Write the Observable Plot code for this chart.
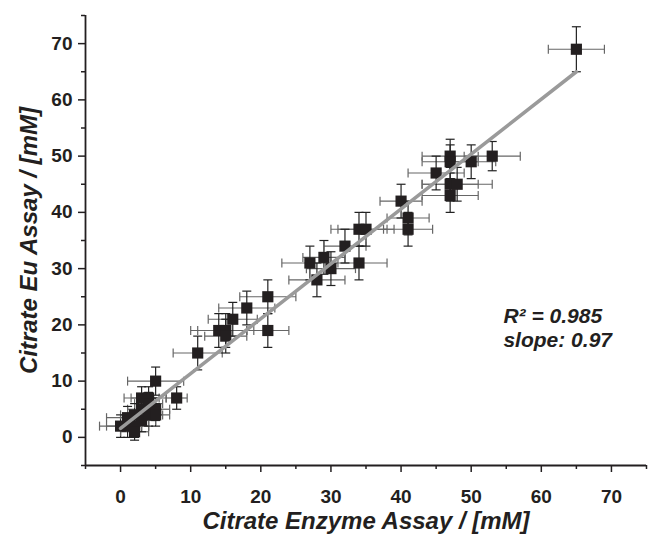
<!DOCTYPE html>
<html>
<head>
<meta charset="utf-8">
<script src="https://cdn.jsdelivr.net/npm/d3@7"></script>
<script src="https://cdn.jsdelivr.net/npm/@observablehq/plot@0.6"></script>
<style>
  html, body { margin: 0; padding: 0; background: #fff; }
</style>
</head>
<body>
<div id="chart"></div>
<script>
// Citrate Enzyme Assay (x) vs Citrate Eu Assay (y), mM, with error bars
const xVals = [65, 53, 50, 47, 47, 45, 47, 48, 47, 40, 41, 41, 34, 35, 32, 29, 27, 30, 34, 28, 21, 18, 16, 14, 15, 15, 21, 11, 5, 8, 3, 4, 0, 1, 1, 2, 2, 3, 3, 4, 4, 5, 5, 2];
const yVals = [69, 50, 49, 50, 49, 47, 45, 45, 43, 42, 39, 37, 37, 37, 34, 32, 31, 30, 31, 28, 25, 23, 21, 19, 19, 18, 19, 15, 10, 7, 7, 7, 2, 2, 3.5, 2, 4, 3, 5, 4, 6, 5, 4, 1];
const xErr  = [4, 4, 3.5, 4, 4, 4, 4, 5, 4, 3, 3, 3.5, 4, 4, 3, 3, 4, 3.5, 4, 4, 4, 4, 3.5, 4, 4, 3, 3, 3.5, 4, 1.5, 2.5, 2.5, 3, 3, 3, 2, 2, 2, 2, 2, 2, 2, 2, 2];
const yErr  = [4, 2.6, 3, 3, 3, 3, 3, 3, 3, 3, 3, 3, 3, 3, 3, 3, 3, 3, 3, 3, 3, 3, 3, 3, 3, 3, 3, 3, 2.5, 2, 2, 2, 2, 2, 2, 2, 2, 2, 2, 2, 2, 2, 2, 1.5];

// linear fit shown in the figure
const fitX = [0, 65];
const fitY = [1.6, 65];

const majorTicks = [0, 10, 20, 30, 40, 50, 60, 70];
const minorTicks = [-5, 5, 15, 25, 35, 45, 55, 65, 75];

const xTitle = "Citrate Enzyme Assay / [mM]";
const yTitle = "Citrate Eu Assay / [mM]";
const annotText = ["R\u00B2 = 0.985", "slope: 0.97"];
const annotX = [54.6, 54.6];
const annotY = [21.5, 17.2];

const data = xVals.map((x, i) => ({x, y: yVals[i], xe: xErr[i], ye: yErr[i]}));
const fit = fitX.map((x, i) => ({x, y: fitY[i]}));
const annot = annotText.map((t, i) => ({t, x: annotX[i], y: annotY[i]}));

const capH = {draw(ctx) { ctx.moveTo(-4.5, 0); ctx.lineTo(4.5, 0); }};
const capV = {draw(ctx) { ctx.moveTo(0, -4.5); ctx.lineTo(0, 4.5); }};

const font = "'Liberation Sans', Arial, Helvetica, sans-serif";

const chart = Plot.plot({
  width: 650,
  height: 540,
  marginLeft: 85,
  marginRight: 4,
  marginTop: 15,
  marginBottom: 75,
  x: {domain: [-5, 75]},
  y: {domain: [-5, 75]},
  style: {fontFamily: font, background: "#fff", color: "#231f20"},
  marks: [
    Plot.axisX({ticks: majorTicks, tickSize: 7, tickPadding: 17, fontSize: 19, fontWeight: "bold", label: null, strokeWidth: 1.5}),
    Plot.axisX({ticks: minorTicks, tickSize: 4, tickFormat: () => "", label: null, strokeWidth: 1.5}),
    Plot.axisY({ticks: majorTicks, tickSize: 7, tickPadding: 6, fontSize: 19, fontWeight: "bold", label: null, strokeWidth: 1.5}),
    Plot.axisY({ticks: minorTicks, tickSize: 4, tickFormat: () => "", label: null, strokeWidth: 1.5}),
    Plot.ruleY([-5], {strokeWidth: 1.8, stroke: "#231f20"}),
    Plot.ruleX([-5], {strokeWidth: 1.8, stroke: "#231f20"}),
    // error bars
    Plot.link(data, {x1: d => d.x - d.xe, x2: d => d.x + d.xe, y1: "y", y2: "y", stroke: "#666", strokeWidth: 1.2}),
    Plot.link(data, {x1: "x", x2: "x", y1: d => d.y - d.ye, y2: d => d.y + d.ye, stroke: "#222", strokeWidth: 1.2}),
    Plot.dot(data, {x: d => d.x - d.xe, y: "y", symbol: capV, fill: "none", stroke: "#666", strokeWidth: 1.2}),
    Plot.dot(data, {x: d => d.x + d.xe, y: "y", symbol: capV, fill: "none", stroke: "#666", strokeWidth: 1.2}),
    Plot.dot(data, {x: "x", y: d => d.y - d.ye, symbol: capH, fill: "none", stroke: "#222", strokeWidth: 1.2}),
    Plot.dot(data, {x: "x", y: d => d.y + d.ye, symbol: capH, fill: "none", stroke: "#222", strokeWidth: 1.2}),
    // points
    Plot.dot(data, {x: "x", y: "y", symbol: "square", r: 6.3, fill: "#231f20", stroke: "none"}),
    // fit line
    Plot.line(fit, {x: "x", y: "y", stroke: "#9a9a9a", strokeWidth: 3.5}),
    // annotation
    Plot.text(annot, {x: "x", y: "y", text: "t", textAnchor: "start", fontSize: 21, fontWeight: "bold", fontStyle: "italic", fill: "#231f20"}),
    // axis titles
    Plot.text([xTitle], {frameAnchor: "bottom", dy: 56, textAnchor: "middle", lineAnchor: "middle", fontSize: 24, fontWeight: "bold", fontStyle: "italic", fill: "#231f20"}),
    Plot.text([yTitle], {frameAnchor: "left", dx: -56, rotate: -90, textAnchor: "middle", lineAnchor: "middle", fontSize: 24, fontWeight: "bold", fontStyle: "italic", fill: "#231f20"})
  ]
});

document.getElementById("chart").appendChild(chart);
</script>
</body>
</html>
